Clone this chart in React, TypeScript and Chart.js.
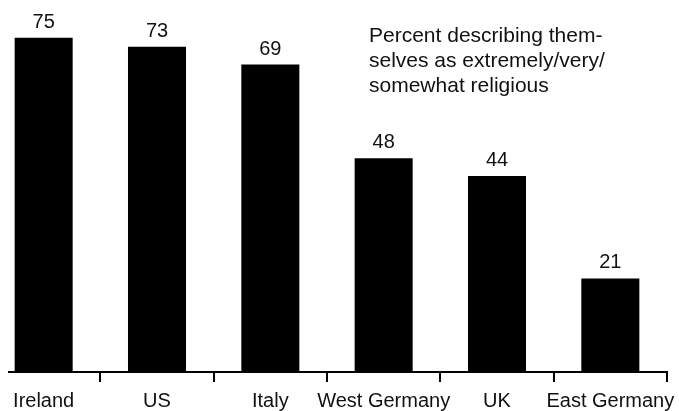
import React, { useEffect, useRef } from "react";
import { Chart, registerables } from "chart.js";

Chart.register(...registerables);

const categories = ["Ireland", "US", "Italy", "West Germany", "UK", "East Germany"];
const percentReligious = [75, 73, 69, 48, 44, 21];
const annotationLines = [
  "Percent describing them-",
  "selves as extremely/very/",
  "somewhat religious",
];

const FONT = '"Liberation Sans", Arial, Helvetica, sans-serif';

export default function App() {
  const ref = useRef<HTMLCanvasElement>(null);

  useEffect(() => {
    const canvas = ref.current!;
    const labelsPlugin = {
      id: "valueLabels",
      afterDatasetsDraw(chart: any) {
        const ctx = chart.ctx;
        const meta = chart.getDatasetMeta(0);
        ctx.save();
        ctx.fillStyle = "#111";
        ctx.font = `20px ${FONT}`;
        ctx.textAlign = "center";
        ctx.textBaseline = "alphabetic";
        meta.data.forEach((bar: any, i: number) => {
          ctx.fillText(String(percentReligious[i]), bar.x, bar.y - 10);
        });
        ctx.font = `21px ${FONT}`;
        ctx.textAlign = "left";
        annotationLines.forEach((line, i) => {
          ctx.fillText(line, 382, 42 + i * 25);
        });
        ctx.restore();
      },
    };

    const chart = new Chart(canvas, {
      type: "bar",
      data: {
        labels: categories,
        datasets: [
          {
            data: percentReligious,
            backgroundColor: "#000",
            borderWidth: 0,
            barPercentage: 0.512,
            categoryPercentage: 1,
          },
        ],
      },
      options: {
        responsive: false,
        animation: false,
        devicePixelRatio: 1,
        layout: { padding: { left: 0, right: 20, top: 0, bottom: 0 } },
        plugins: {
          legend: { display: false },
          tooltip: { enabled: false },
          title: { display: false },
        },
        scales: {
          x: {
            type: "category",
            offset: true,
            border: { display: true, color: "#000", width: 2 },
            grid: {
              display: true,
              offset: true,
              drawOnChartArea: false,
              drawTicks: true,
              tickLength: 10,
              color: "#000",
              lineWidth: 2,
            },
            ticks: {
              color: "#111",
              font: { family: FONT, size: 20 },
              padding: 7,
              maxRotation: 0,
              autoSkip: false,
            },
          },
          y: {
            display: false,
            min: 0,
            max: 83.5,
          },
        },
      },
      plugins: [labelsPlugin],
    });
    return () => chart.destroy();
  }, []);

  return (
    <div
      style={{
        position: "absolute",
        left: 8,
        top: 0,
        width: 671,
        height: 411,
        overflow: "hidden",
        background: "#fff",
      }}
    >
      <canvas
        ref={ref}
        width={700}
        height={420}
        style={{ position: "absolute", left: -21, top: 0, width: 700, height: 420 }}
      />
    </div>
  );
}
